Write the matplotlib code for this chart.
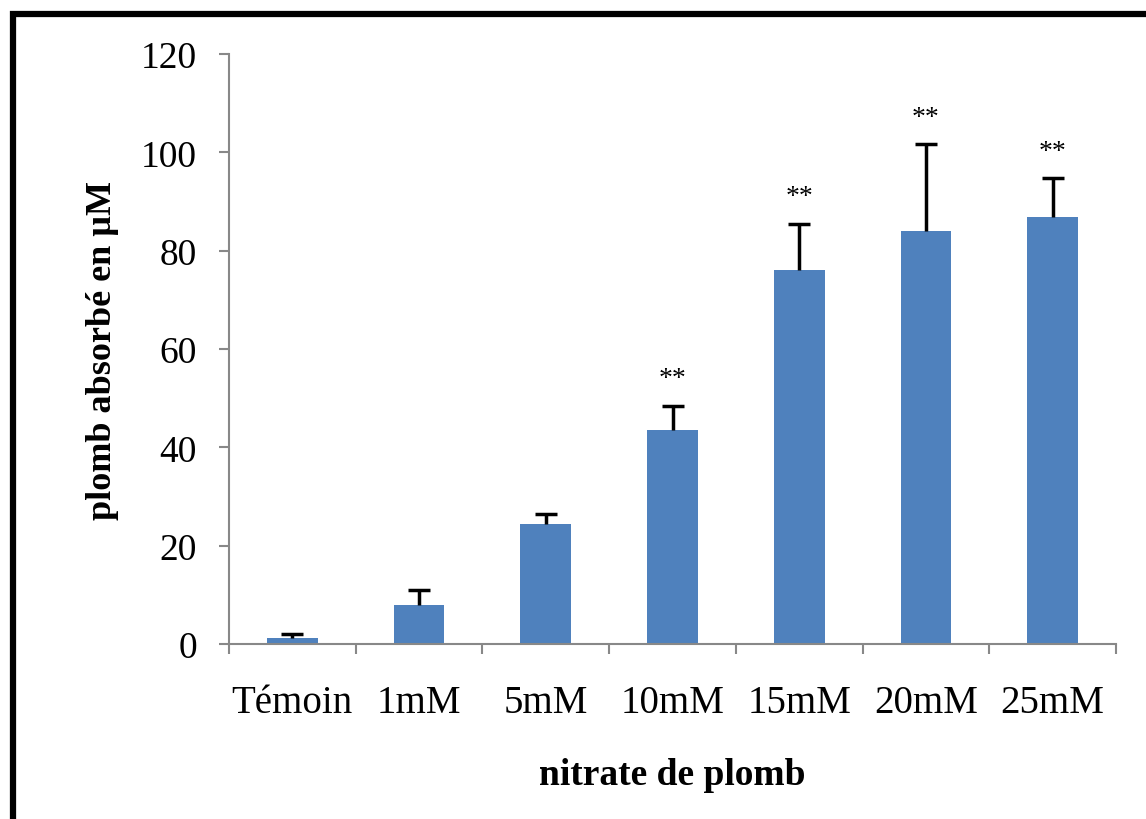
import numpy as np
import matplotlib.pyplot as plt
from matplotlib.patches import Rectangle

# concentrations de nitrate de plomb et plomb absorbé (µM)
categories = ['Témoin', '1mM', '5mM', '10mM', '15mM', '20mM', '25mM']
plomb_absorbe = [1.2, 8.0, 24.5, 43.5, 76.0, 84.0, 86.8]
ecart_type = [0.9, 3.0, 2.0, 5.0, 9.4, 17.6, 7.9]
signif = ['', '', '', '**', '**', '**', '**']

plt.rcParams['font.family'] = ['Liberation Serif', 'DejaVu Serif']

fig = plt.figure(figsize=(11.46, 8.2), dpi=100)
ax = fig.add_axes([229 / 1146, 1 - 645 / 820, (1116 - 229) / 1146, (645 - 55) / 820])

x = np.arange(len(categories))
ax.bar(x, plomb_absorbe, width=0.4, color='#4F81BD', zorder=2)
# barres d'erreur vers le haut seulement
_, caps, _ = ax.errorbar(x, plomb_absorbe, yerr=[np.zeros(len(x)), ecart_type], fmt='none',
                         ecolor='black', elinewidth=2.5, capsize=8, capthick=2.5, zorder=3)
caps[0].set_visible(False)

for xi, v, e, s in zip(x, plomb_absorbe, ecart_type, signif):
    if s:
        ax.text(xi, v + e + 3.0, s, ha='center', va='bottom', fontsize=20)

ax.set_xlim(-0.5, len(categories) - 0.5)
ax.set_ylim(0, 120)
ax.set_yticks(np.arange(0, 121, 20))

# graduations aux limites des catégories, libellés au centre
ax.set_xticks(np.arange(-0.5, len(categories), 1.0))
ax.set_xticklabels([])
ax.set_xticks(x, minor=True)
ax.set_xticklabels(categories, minor=True)
ax.tick_params(axis='x', which='major', length=7, width=1.5, color='#888888', direction='out')
ax.tick_params(axis='x', which='minor', length=0, pad=29, labelsize=28)
ax.tick_params(axis='y', length=7, width=1.5, color='#888888', direction='out', pad=16, labelsize=27)

for side in ['top', 'right']:
    ax.spines[side].set_visible(False)
for side in ['left', 'bottom']:
    ax.spines[side].set_color('#888888')
    ax.spines[side].set_linewidth(1.5)

ax.set_ylabel('plomb absorbé en µM', fontsize=26, fontweight='bold', labelpad=16)
ax.set_xlabel('nitrate de plomb', fontsize=27, fontweight='bold', labelpad=26)

# cadre noir autour de la figure
fig.patches.append(Rectangle((13 / 1146, -0.5), 2, 1.5 - 15 / 820,
                             transform=fig.transFigure, fill=False,
                             edgecolor='black', linewidth=4.5))

fig.savefig('out.png', dpi=100)
